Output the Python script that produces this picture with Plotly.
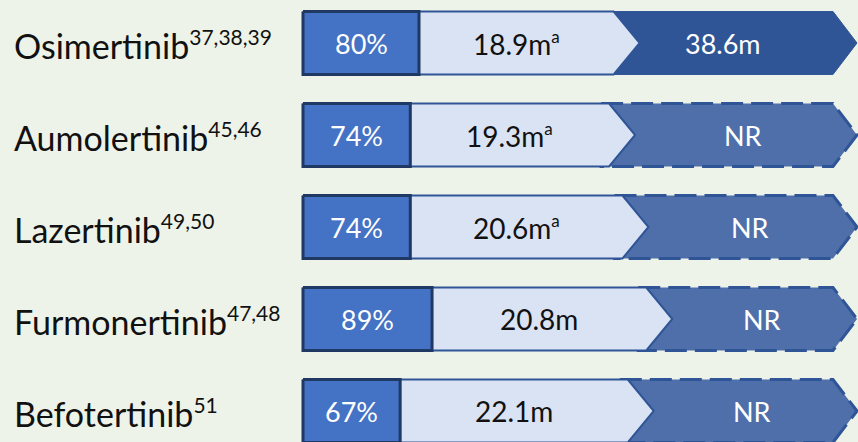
import plotly.graph_objects as go

# Treatment rows, top to bottom
drugs = ["Osimertinib", "Aumolertinib", "Lazertinib", "Furmonertinib", "Befotertinib"]
refs = ["37,38,39", "45,46", "49,50", "47,48", "51"]
orr_pct = [80, 74, 74, 89, 67]
pfs_months = [18.9, 19.3, 20.6, 20.8, 22.1]
pfs_note = ["a", "a", "a", "", ""]
os_labels = ["38.6m", "NR", "NR", "NR", "NR"]
os_reached = [True, False, False, False, False]

# Horizontal layout scales (axis units are screen-like units)
BAR_START = 303
PCT_SCALE = 1.45      # units per ORR percentage point
MONTH_SCALE = 10.3    # units per month of PFS
OS_FLAT_END = 833
OS_TIP = 857
CHEVRON = 26
HALF_H = 0.342        # half bar height in row units

BG = "#eef3e9"
BOX_FILL = "#4472c4"
BOX_LINE = "#1f3864"
LIGHT_FILL = "#dae3f3"
LIGHT_LINE = "#2f5597"
OS_FILL = "#2f5597"
NR_FILL = "#4e6fa9"
NR_LINE = "#2f5597"
FONT = "Lato"

fig = go.Figure()
annotations = []

for i, name in enumerate(drugs):
    top, bot, mid = i - HALF_H, i + HALF_H, i
    box_end = BAR_START + orr_pct[i] * PCT_SCALE
    pfs_end = box_end + pfs_months[i] * MONTH_SCALE

    # overall survival segment (behind the PFS chevron)
    os_x = [pfs_end - 8, OS_FLAT_END, OS_TIP, OS_FLAT_END, pfs_end - 8, pfs_end - 8]
    os_y = [top, top, mid, bot, bot, top]
    if os_reached[i]:
        fig.add_trace(go.Scatter(x=os_x, y=os_y, mode="lines", fill="toself",
                                 fillcolor=OS_FILL, line=dict(color=OS_FILL, width=1),
                                 hoverinfo="skip", showlegend=False))
        os_center = (pfs_end + OS_FLAT_END) / 2
    else:
        fig.add_trace(go.Scatter(x=os_x, y=os_y, mode="lines", fill="toself",
                                 fillcolor=NR_FILL,
                                 line=dict(color=NR_LINE, width=3, dash="22px,8px"),
                                 hoverinfo="skip", showlegend=False))
        os_center = (pfs_end + CHEVRON + OS_TIP) / 2 - 3

    # PFS chevron
    fig.add_trace(go.Scatter(
        x=[BAR_START, pfs_end, pfs_end + CHEVRON, pfs_end, BAR_START, BAR_START],
        y=[top, top, mid, bot, bot, top], mode="lines", fill="toself",
        fillcolor=LIGHT_FILL, line=dict(color=LIGHT_LINE, width=2),
        hoverinfo="skip", showlegend=False))

    # ORR box
    fig.add_trace(go.Scatter(
        x=[BAR_START, box_end, box_end, BAR_START, BAR_START],
        y=[top, top, bot, bot, top], mode="lines", fill="toself",
        fillcolor=BOX_FILL, line=dict(color=BOX_LINE, width=3),
        hoverinfo="skip", showlegend=False))

    # texts
    annotations.append(dict(x=12, y=mid + 0.02, xanchor="left", yanchor="middle",
                            text=f"{name}<sup><span style='font-size:21px'>{refs[i]}</span></sup>",
                            showarrow=False,
                            font=dict(family=FONT, size=34, color="#111111")))
    annotations.append(dict(x=(BAR_START + box_end) / 2, y=mid, showarrow=False,
                            text=f"{orr_pct[i]}%",
                            font=dict(family=FONT, size=27, color="white")))
    pfs_txt = f"{pfs_months[i]}m" + (
        f"<sup><span style='font-size:17px'>{pfs_note[i]}</span></sup>" if pfs_note[i] else "")
    annotations.append(dict(x=(box_end + pfs_end) / 2, y=mid, showarrow=False,
                            text=pfs_txt,
                            font=dict(family=FONT, size=28, color="#111111")))
    annotations.append(dict(x=os_center, y=mid, showarrow=False,
                            text=os_labels[i],
                            font=dict(family=FONT, size=27, color="white")))

fig.update_layout(
    width=858, height=442,
    margin=dict(l=0, r=0, t=0, b=0),
    paper_bgcolor=BG, plot_bgcolor=BG,
    xaxis=dict(range=[0, 858], visible=False, fixedrange=True),
    yaxis=dict(range=[(442 - 43) / 92, -43 / 92], visible=False, fixedrange=True),
    annotations=annotations,
)

fig.write_html("out.html")
